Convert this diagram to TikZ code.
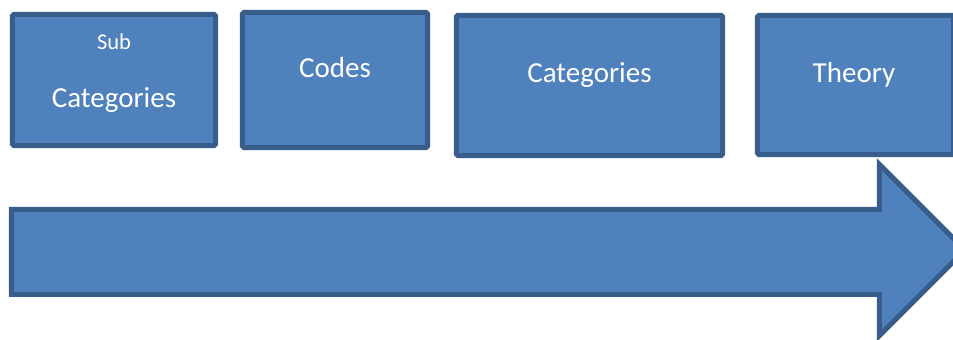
\documentclass[tikz,border=0pt]{standalone}
\usepackage{fontspec}
\setmainfont{Carlito}
\definecolor{boxfill}{HTML}{4F81BD}
\definecolor{boxline}{HTML}{385D8A}

\begin{document}
\begin{tikzpicture}[x=0.01cm, y=-0.01cm, font=\fontsize{8.25}{10}\selectfont,
		stage/.style={draw=boxline, fill=boxfill, line width=0.05cm, rectangle, rounded corners=0.4pt, inner sep=0pt, outer sep=0pt},
		flow/.style={draw=boxline, fill=boxfill, line width=0.05cm, line join=miter},
		word/.style={text=white, inner sep=0pt, anchor=base}]
				\useasboundingbox (0,0) rectangle (953,340);
				\clip (0,0) rectangle (953,340);
				
				\node[stage, minimum width=2.03cm, minimum height=1.31cm] (subcat) at (114, 80) {};
				\node[stage, minimum width=1.85cm, minimum height=1.35cm] (codes) at (335, 80) {};
				\node[stage, minimum width=2.66cm, minimum height=1.40cm] (cat) at (589.5, 85.5) {};
				\node[stage, minimum width=1.96cm, minimum height=1.39cm] (theory) at (855.5, 85) {};
				
				\node[word, font=\fontsize{6.4}{8}\selectfont] (sublbl) at ([yshift=0.30cm]subcat.center) {Sub};
				\node[word] (subcatlbl) at ([yshift=-0.27cm]subcat.center) {Categories};
				\node[word] (codeslbl) at ([yshift=0.02cm]codes.center) {Codes};
				\node[word] (catlbl) at ([yshift=0.025cm]cat.center) {Categories};
				\node[word] (theorylbl) at ([xshift=-0.015cm, yshift=0.02cm]theory.center) {Theory};
				
				% big block arrow under the stages, tip runs off the right edge
				\draw[flow] (11.5, 209.5) -- (879.5, 209.5) -- (879.5, 164.5) -- (965, 250)
					-- (879.5, 335.5) -- (879.5, 294.5) -- (11.5, 294.5) -- cycle;
			\end{tikzpicture}
\end{document}
